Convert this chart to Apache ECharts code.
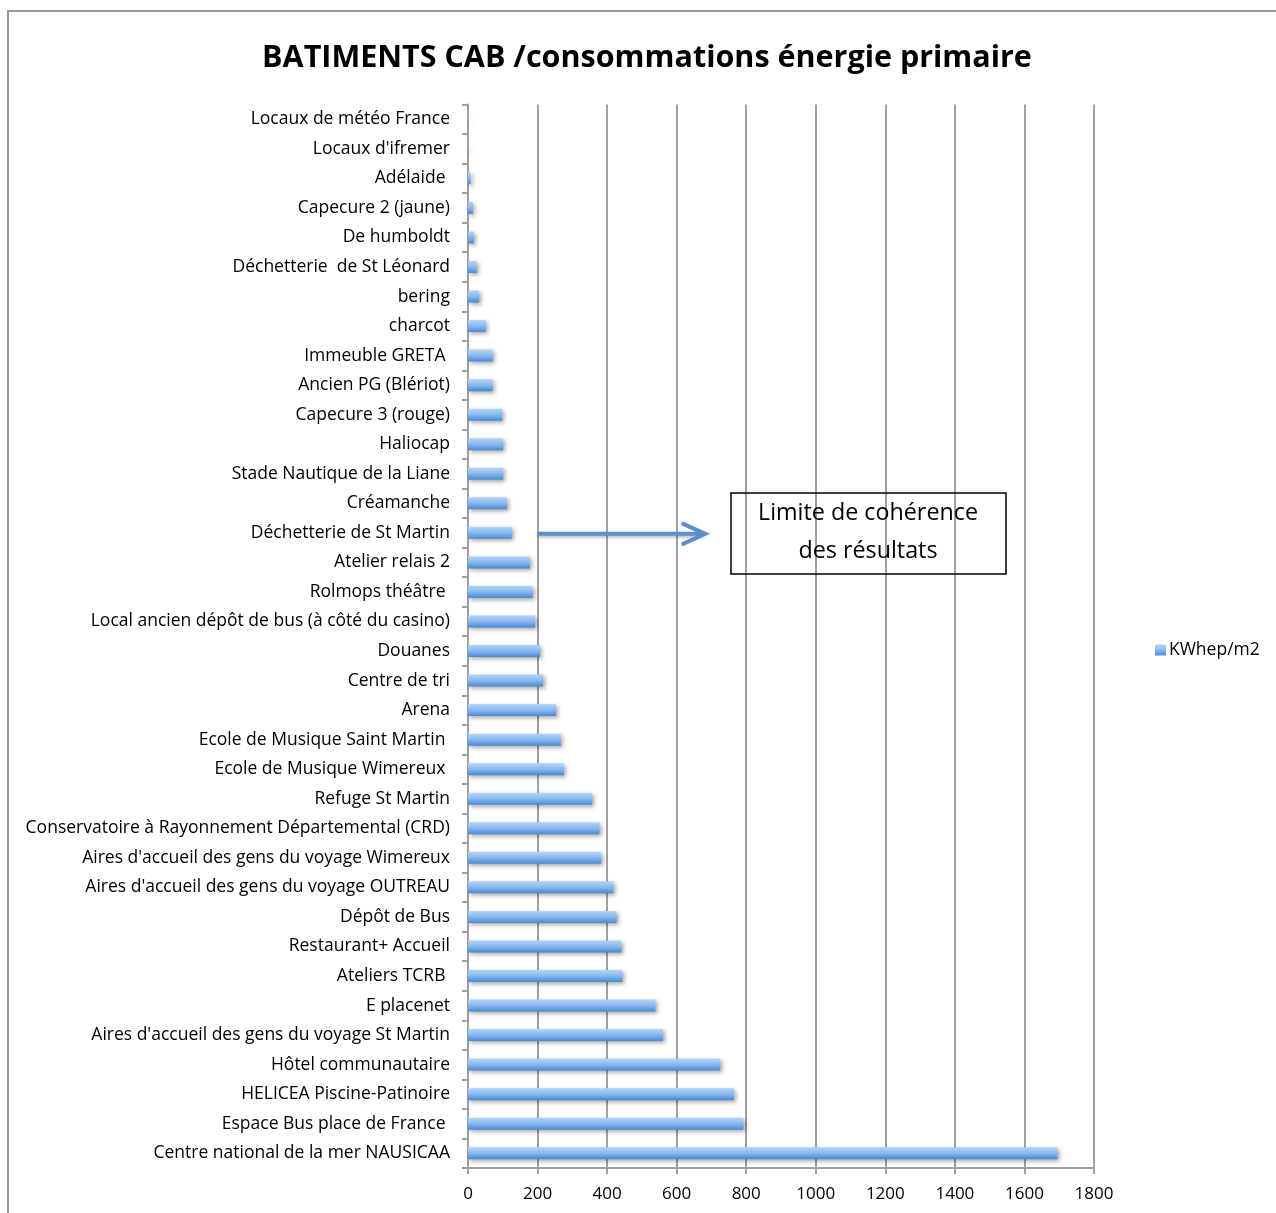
<!DOCTYPE html>
<html>
<head>
<meta charset="utf-8">
<script src="https://cdn.jsdelivr.net/npm/echarts@6/dist/echarts.min.js"></script>
<style>
html,body{margin:0;padding:0;background:#fff;}
#chart{width:1276px;height:1213px;}
</style>
</head>
<body>
<div id="chart"></div>
<script>
const categories = [
  "Locaux de météo France",
  "Locaux d'ifremer",
  "Adélaide ",
  "Capecure 2 (jaune)",
  "De humboldt",
  "Déchetterie  de St Léonard",
  "bering",
  "charcot",
  "Immeuble GRETA ",
  "Ancien PG (Blériot)",
  "Capecure 3 (rouge)",
  "Haliocap",
  "Stade Nautique de la Liane",
  "Créamanche",
  "Déchetterie de St Martin",
  "Atelier relais 2",
  "Rolmops théâtre ",
  "Local ancien dépôt de bus (à côté du casino)",
  "Douanes",
  "Centre de tri",
  "Arena",
  "Ecole de Musique Saint Martin ",
  "Ecole de Musique Wimereux ",
  "Refuge St Martin",
  "Conservatoire à Rayonnement Départemental (CRD)",
  "Aires d'accueil des gens du voyage Wimereux",
  "Aires d'accueil des gens du voyage OUTREAU",
  "Dépôt de Bus",
  "Restaurant+ Accueil",
  "Ateliers TCRB ",
  "E placenet",
  "Aires d'accueil des gens du voyage St Martin",
  "Hôtel communautaire",
  "HELICEA Piscine-Patinoire",
  "Espace Bus place de France ",
  "Centre national de la mer NAUSICAA"
];
const kwhepValues = [1, 1, 8, 14, 17, 25, 32, 51, 71, 71, 98, 101, 101, 112, 126, 178, 186, 193, 207, 216, 253, 267, 276, 357, 378, 383, 418, 427, 441, 444, 539, 561, 725, 765, 792, 1695];
const seriesName = "KWhep/m2";
const chartTitle = "BATIMENTS CAB /consommations énergie primaire";
const annotationLines = ["Limite de cohérence", "des résultats"];
const arrowFrom = [200, "Déchetterie de St Martin"];
const arrowTo = [682, "Déchetterie de St Martin"];

const FONT = "Open Sans";
const chart = echarts.init(document.getElementById('chart'));
const barGrad = new echarts.graphic.LinearGradient(0, 0, 0, 1, [
  {offset: 0, color: '#b3d5fa'},
  {offset: 0.5, color: '#86b8ee'},
  {offset: 1, color: '#4a8ad3'}
]);
chart.setOption({
  animation: false,
  textStyle: {fontFamily: FONT},
  title: {
    text: chartTitle,
    left: 642, top: 38, textAlign: 'center',
    textStyle: {fontFamily: FONT, fontWeight: 'bold', fontSize: 30.5, color: '#000'}
  },
  legend: {
    data: [seriesName],
    left: 1150, top: 636,
    orient: 'vertical',
    icon: 'rect', itemWidth: 11, itemHeight: 11, itemGap: 4,
    textStyle: {fontFamily: FONT, fontSize: 17.5, color: '#000', padding: [0,0,0,-2]}
  },
  grid: {left: 468, top: 104.5, right: 182, bottom: 45, containLabel: false},
  xAxis: {
    type: 'value', min: 0, max: 1800, interval: 200,
    axisLine: {show: true, lineStyle: {color: '#a0a0a0', width: 2}},
    axisTick: {show: true, length: 6, lineStyle: {color: '#a0a0a0', width: 2}},
    splitLine: {show: true, lineStyle: {color: '#a0a0a0', width: 2}},
    axisLabel: {fontFamily: FONT, fontSize: 17, color: '#000', margin: 18, formatter: v => String(v)}
  },
  yAxis: {
    type: 'category', data: categories, inverse: true,
    axisLine: {show: true, lineStyle: {color: '#a0a0a0', width: 2}},
    axisTick: {show: true, length: 6, lineStyle: {color: '#a0a0a0', width: 2}},
    axisLabel: {fontFamily: FONT, fontSize: 17.5, color: '#000', margin: 18, padding: [4, 0, 0, 0]}
  },
  series: [{
    name: seriesName, type: 'bar', data: kwhepValues,
    barWidth: 12,
    itemStyle: {
      color: barGrad,
      shadowColor: 'rgba(0,0,0,0.35)', shadowBlur: 4, shadowOffsetX: 2, shadowOffsetY: 2
    }
  }]
});

function drawAnnotation() {
  const p0 = chart.convertToPixel({gridIndex: 0}, arrowFrom);
  const p1 = chart.convertToPixel({gridIndex: 0}, arrowTo);
  const y = p0[1] + 1;
  const col = '#5b8fc7';
  chart.setOption({
    graphic: [
      {type: 'rect', shape: {x: 8, y: 11, width: 1400, height: 1400}, style: {fill: 'none', stroke: '#9a9a9a', lineWidth: 2}, silent: true, z: 0},
      {type: 'line', shape: {x1: p0[0], y1: y, x2: p1[0] - 2, y2: y}, style: {stroke: col, lineWidth: 4, shadowColor: 'rgba(0,0,0,0.25)', shadowBlur: 3, shadowOffsetY: 2}, z: 10},
      {type: 'polyline', shape: {points: [[p1[0] - 22, y - 10], [p1[0], y], [p1[0] - 22, y + 10]]}, style: {stroke: col, lineWidth: 4, fill: 'none', lineCap: 'round', lineJoin: 'miter'}, z: 10},
      {type: 'rect', shape: {x: 731, y: 493, width: 275, height: 81}, style: {fill: 'none', stroke: '#000', lineWidth: 1.5}, z: 10},
      {type: 'text', x: 868, y: 513, style: {text: annotationLines[0], fontFamily: FONT, fontSize: 23.3, fill: '#000', align: 'center', verticalAlign: 'middle'}, z: 11},
      {type: 'text', x: 868, y: 551, style: {text: annotationLines[1], fontFamily: FONT, fontSize: 23.3, fill: '#000', align: 'center', verticalAlign: 'middle'}, z: 11}
    ]
  });
}
drawAnnotation();
</script>
</body>
</html>
